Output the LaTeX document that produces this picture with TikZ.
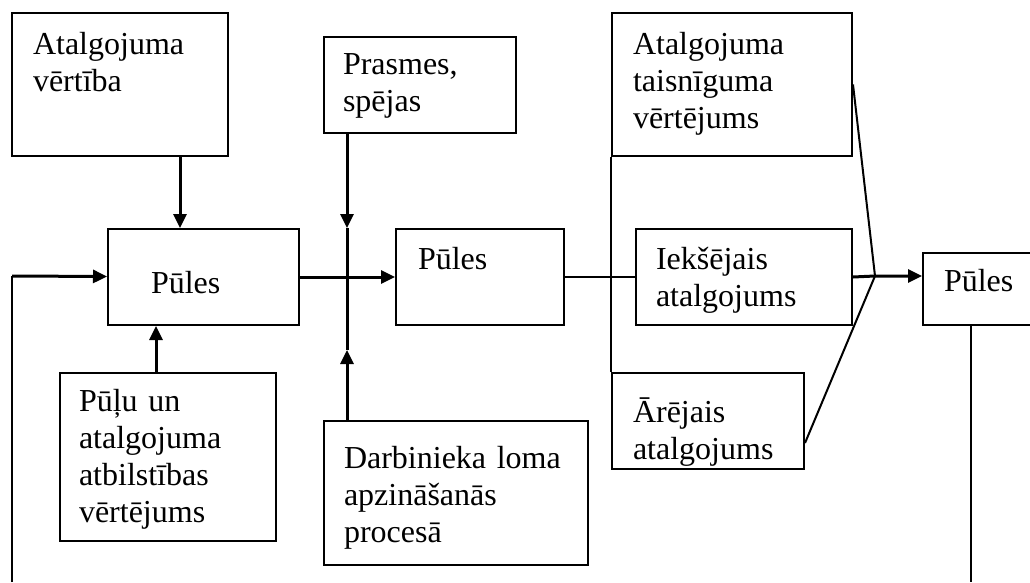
\documentclass[tikz,border=0pt]{standalone}
\usepackage{fontspec}
\setmainfont{Liberation Serif}
\usetikzlibrary{arrows.meta}

\begin{document}
\begin{tikzpicture}[x=1pt, y=-1pt, box/.style={draw, line width=2pt, anchor=north west, align=left, inner ysep=0pt, font=\fontsize{32}{37}\selectfont}, arr/.style={line width=3pt, -{Triangle[length=14pt,width=13pt]}}, link/.style={line width=2pt}]
	\useasboundingbox (0,0) rectangle (1030,582);
	\clip (0,0) rectangle (1030,582);
	\node[box, inner xsep=21pt, text width=174pt, text height=41pt, text depth=102pt] (val) at (11,12) {Atalgojuma\\vērtība};
	\node[box, inner xsep=43pt, text width=105pt, text height=64pt, text depth=32pt] (p1) at (107,228) {Pūles};
	\node[box, inner xsep=19pt, text width=154pt, text height=37pt, text depth=59pt] (skill) at (323,36) {Prasmes,\\spējas};
	\node[box, inner xsep=22pt, text width=124pt, text height=40pt, text depth=56pt] (p2) at (395,228) {Pūles};
	\node[box, inner xsep=21pt, text width=198pt, text height=41pt, text depth=102pt] (fair) at (611,12) {Atalgojuma\\taisnīguma\\vērtējums};
	\node[box, inner xsep=20pt, text width=176pt, text height=40pt, text depth=56pt] (intr) at (635,228) {Iekšējais\\atalgojums};
	\node[box, inner xsep=21pt, text width=150pt, text height=49pt, text depth=47pt] (extr) at (611,372) {Ārējais\\atalgojums};
	\node[box, inner xsep=21pt, text width=108pt, text height=38pt, text depth=34pt] (p3) at (922,252) {Pūles};
	\node[box, inner xsep=19pt, text width=178pt, text height=38pt, text depth=130pt] (fit) at (59,372) {Pūļu un\\atalgojuma\\atbilstības\\vērtējums};
	\node[box, inner xsep=20pt, text width=224pt, text height=47pt, text depth=97pt] (role) at (323,420) {Darbinieka loma\\apzināšanās\\procesā};
	\coordinate (cs) at (347,228);
	\coordinate (cr) at (347,350);
	\coordinate (join) at (875,276);
	\coordinate (fb) at (12,276);
	\coordinate (bl) at (12,582);
	\coordinate (br) at (971,582);
	\draw[arr] ([xshift=60pt]val.south) -- ([xshift=60pt]val.south |- p1.north);
	\draw[arr] ([xshift=-12pt]fit.north) -- ([xshift=-12pt]fit.north |- p1.south);
	\draw[arr] (skill.south -| cs) -- (cs);
	\draw[arr] (role.north -| cr) -- (cr);
	\draw[line width=3pt] (cs) -- (cr);
	\draw[arr] (p1) -- (p2);
	\draw[link] (p2) -- (intr);
	\draw[link] (fair.south west) -- (extr.north west);
	\draw[link] (fair.east) -- (join);
	\draw[link] ([yshift=-22pt]extr.east) -- (join);
	\draw[arr] (intr.east) -- (join) -- (join -| p3.west);
	\draw[link] (br |- p3.south) -- (br);
	\draw[link] (bl) -- (fb);
	\draw[arr] (fb) -- (p1);
\end{tikzpicture}
\end{document}
